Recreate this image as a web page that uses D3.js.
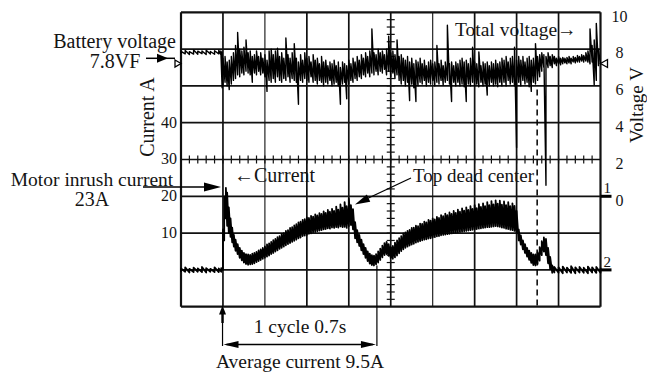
<!DOCTYPE html>
<html><head><meta charset="utf-8">
<script src="https://cdn.jsdelivr.net/npm/d3@7/dist/d3.min.js"></script>
<style>
html,body{margin:0;padding:0;background:#fff;}
svg{display:block;}
text{font-family:"Liberation Serif","Times New Roman",serif;fill:#141414;}
</style></head><body>
<svg id="chart" width="647" height="374"></svg>
<script>
// ---------------- DATA ----------------
// time axis in scope divisions (10 divisions across the screen)
const currentTicks = [10, 20, 30, 40];        // left axis, A
const voltageTicks = [0, 2, 4, 6, 8, 10];     // right axis, V

// Total (battery) voltage trace, V: per-sample low / high of the noisy trace
const voltT = [0,0.1,0.2,0.3,0.4,0.5,0.6,0.7,0.8,0.9,0.95,0.98,
 1.00,1.05,1.10,1.15,1.20,1.25,1.30,1.35,1.40,1.45,
 1.50,1.55,1.60,1.65,1.70,1.75,1.80,1.85,1.90,1.95,
 2.00,2.05,2.10,2.15,2.20,2.25,2.30,2.35,2.40,2.45,
 2.50,2.55,2.60,2.65,2.70,2.75,2.80,2.85,2.90,2.95,
 3.00,3.05,3.10,3.15,3.20,3.25,3.30,3.35,3.40,3.45,
 3.50,3.55,3.60,3.65,3.70,3.75,3.80,3.85,3.90,3.95,
 4.00,4.05,4.10,4.15,4.20,4.25,4.30,4.35,4.40,4.45,
 4.50,4.55,4.60,4.65,4.70,4.75,4.80,4.85,4.90,4.95,
 5.00,5.05,5.10,5.15,5.20,5.25,5.30,5.35,5.40,5.45,
 5.50,5.55,5.60,5.65,5.70,5.75,5.80,5.85,5.90,5.95,
 6.00,6.05,6.10,6.15,6.20,6.25,6.30,6.35,6.40,6.45,
 6.50,6.55,6.60,6.65,6.70,6.75,6.80,6.85,6.90,6.95,
 7.00,7.05,7.10,7.15,7.20,7.25,7.30,7.35,7.40,7.45,
 7.50,7.55,7.60,7.65,7.70,7.75,7.80,7.85,7.90,7.95,
 8.00,8.05,8.10,8.15,8.20,8.25,8.30,8.35,8.40,8.45,
 8.50,8.55,8.60,8.65,8.70,8.75,8.80,8.85,8.90,8.95,
 9.00,9.05,9.10,9.15,9.20,9.25,9.30,9.35,9.40,9.45,
 9.50,9.55,9.60,9.65,9.70,9.75,9.80,9.85,9.90,9.95,
 10.00];
const voltLo = [7.72,7.74,7.70,7.73,7.72,7.75,7.71,7.73,7.72,7.74,7.70,5.90,
 6.0,6.2,6.0,5.8,6.1,6.3,6.4,6.6,6.5,6.7,
 6.6,6.8,6.7,6.6,6.2,6.7,6.6,6.8,6.6,6.7,
 6.5,5.7,6.3,6.2,6.4,6.2,6.5,6.3,6.2,6.4,
 6.3,6.5,6.2,6.4,6.3,6.2,5.0,6.3,6.2,6.4,
 6.3,6.2,6.5,6.2,6.3,6.1,6.3,6.2,6.0,6.2,
 6.1,6.3,6.0,6.1,6.2,6.0,5.0,6.1,6.2,5.3,
 6.1,6.3,6.2,6.4,6.3,6.5,6.4,6.6,6.5,6.7,
 6.5,6.7,6.6,6.8,6.6,6.8,6.7,6.9,6.6,6.8,
 6.5,6.7,6.4,6.6,6.3,6.1,6.3,6.0,6.2,5.2,
 6.1,5.9,5.15,6.0,6.2,6.1,6.3,6.0,6.2,6.1,
 6.3,6.0,6.2,6.1,6.3,6.05,6.2,6.3,6.1,5.15,
 6.2,6.0,6.2,6.0,6.1,5.95,5.15,6.1,6.0,6.2,
 6.0,6.1,5.95,6.2,6.0,6.1,5.5,6.0,6.2,6.0,
 6.1,5.95,6.2,6.0,6.2,6.0,6.3,6.1,6.2,6.0,
 2.65,6.2,6.0,6.3,6.1,6.2,5.95,5.7,6.2,6.1,
 6.3,6.5,6.8,7.0,0.6,7.0,7.1,7.0,7.2,7.1,
 7.2,7.15,7.2,7.25,7.2,7.25,7.2,7.3,7.25,7.3,
 7.3,7.35,7.3,7.35,7.3,7.2,7.3,6.05,6.3,7.1,
 7.2];
const voltHi = [7.88,7.92,7.86,7.95,7.89,7.90,7.94,7.87,7.91,7.93,7.90,7.85,
 7.5,7.6,7.3,7.4,7.6,7.8,8.2,8.9,8.0,7.9,
 8.1,8.5,7.8,7.9,7.6,7.7,7.9,7.6,7.8,7.5,
 7.7,7.4,7.9,8.0,7.7,7.9,8.05,7.6,7.8,7.5,
 8.6,7.7,7.5,7.8,8.3,7.5,7.3,7.7,7.4,7.8,
 7.5,7.6,7.3,7.7,7.4,7.5,7.2,7.6,7.3,7.4,
 7.1,7.3,7.2,7.4,7.1,7.3,7.0,7.3,7.2,7.1,
 7.4,7.2,7.5,7.3,7.6,7.4,7.7,7.5,7.8,7.6,
 7.9,9.1,7.8,7.7,8.0,7.8,7.9,7.7,8.0,8.7,
 7.8,7.9,7.7,8.5,7.6,7.7,7.5,7.4,7.6,7.3,
 7.5,7.2,7.4,7.3,7.5,7.2,7.4,7.1,7.3,7.4,
 7.2,7.3,8.2,7.2,7.4,7.1,7.3,9.3,7.2,7.3,
 7.1,7.3,7.2,7.4,7.5,7.3,7.4,7.2,7.5,8.1,
 7.3,7.2,7.85,7.1,7.3,7.2,7.3,7.1,7.3,7.2,
 7.4,7.2,7.3,7.5,7.4,7.6,7.3,7.5,7.6,8.1,
 7.4,7.6,7.4,7.6,7.3,7.5,7.6,7.4,7.5,8.3,
 7.6,7.7,7.8,7.7,7.6,7.8,7.6,7.7,7.6,7.5,
 7.6,7.5,7.55,7.5,7.55,7.6,7.5,7.6,7.55,7.65,
 7.6,7.7,7.65,7.8,7.9,9.1,8.2,8.5,9.4,8.0,
 7.3];

// Motor current trace, A: per-sample low / high
const curT = [0,0.1,0.2,0.3,0.4,0.5,0.6,0.7,0.8,0.9,0.96,
 1.00,1.03,1.07,1.10,1.14,1.18,1.22,1.26,1.30,
 1.35,1.40,1.45,1.50,1.55,1.60,1.65,1.70,1.75,1.80,
 1.85,1.90,1.95,2.00,2.05,2.10,2.15,2.20,2.25,2.30,
 2.35,2.40,2.45,2.50,2.55,2.60,2.65,2.70,2.75,2.80,
 2.85,2.90,2.95,3.00,3.05,3.10,3.15,3.20,3.25,3.30,
 3.35,3.40,3.45,3.50,3.55,3.60,3.65,3.70,3.75,3.80,
 3.85,3.90,3.95,4.00,4.05,4.10,4.15,4.20,4.25,4.30,
 4.35,4.40,4.45,4.50,4.55,4.60,4.65,4.70,4.75,4.80,
 4.85,4.90,4.95,5.00,5.05,5.10,5.15,5.20,5.25,5.30,
 5.35,5.40,5.45,5.50,5.55,5.60,5.65,5.70,5.75,5.80,
 5.85,5.90,5.95,6.00,6.05,6.10,6.15,6.20,6.25,6.30,
 6.35,6.40,6.45,6.50,6.55,6.60,6.65,6.70,6.75,6.80,
 6.85,6.90,6.95,7.00,7.05,7.10,7.15,7.20,7.25,7.30,
 7.35,7.40,7.45,7.50,7.55,7.60,7.65,7.70,7.75,7.80,
 7.85,7.90,7.95,8.00,8.05,8.10,8.15,8.20,8.25,8.30,
 8.35,8.40,8.45,8.50,8.55,8.60,8.65,8.70,8.75,8.80,
 8.85,8.90,
 9.0,9.1,9.2,9.3,9.4,9.5,9.6,9.7,9.8,9.9,10.0];
const curLo = [-0.6,-0.5,-0.7,-0.6,-0.5,-0.6,-0.7,-0.5,-0.6,-0.6,-0.5,
 0.0,8,14,12,10,9,7.5,6.3,5.2,
 4.3,3.3,2.6,2.0,1.6,1.4,1.5,1.6,1.8,2.1,
 2.4,2.7,3.0,3.3,3.6,3.9,4.3,4.6,5.0,5.3,
 5.7,6.0,6.3,6.7,7.0,7.3,7.6,7.9,8.2,8.6,
 8.8,9.2,9.3,9.5,9.8,9.9,10.2,10.3,10.5,10.7,
 10.8,11.0,11.1,11.3,11.2,11.5,11.4,11.6,11.5,11.8,
 11.6,11.7,11.4,11.9,12.2,11.0,8.6,7.5,6.5,5.3,
 4.3,3.3,2.4,1.7,1.3,1.2,1.5,2.0,2.7,3.4,
 4.0,4.3,3.8,3.2,3.0,3.4,3.9,4.5,5.1,5.6,
 6.0,6.3,6.6,6.9,7.1,7.4,7.6,7.8,8.0,8.2,
 8.3,8.5,8.6,8.8,8.9,9.1,9.2,9.4,9.5,9.6,
 9.7,9.8,9.9,10.0,10.1,10.2,10.3,10.4,10.5,10.6,
 10.7,10.8,10.9,11.0,11.1,11.2,11.3,11.4,11.5,11.6,
 11.6,11.7,11.8,11.9,11.8,11.7,11.5,11.4,11.2,11.1,
 10.9,10.8,10.6,10.0,8.0,6.9,5.6,4.6,3.6,2.7,
 1.9,1.3,1.2,1.6,2.5,4.0,5.0,4.0,1.8,0.2,
 -0.8,-0.7,
 -0.8,-0.9,-0.7,-0.8,-0.9,-0.7,-0.8,-0.9,-0.7,-0.8,-0.8];
const curHi = [0.4,0.7,0.3,0.6,0.4,0.8,0.5,0.3,0.7,0.4,0.5,
 11,20,22.3,21,17,14,11.5,9.5,8.2,
 7.0,6.0,5.2,4.6,4.3,4.2,4.1,4.4,4.6,4.9,
 5.3,5.6,6.0,6.4,6.9,7.2,7.6,8.1,8.4,8.9,
 9.2,9.8,10.0,10.6,10.8,11.4,11.6,12.1,12.4,12.9,
 13.1,13.6,13.8,14.3,14.1,14.7,14.5,15.1,14.8,15.4,
 15.2,15.9,15.5,16.3,15.8,16.6,16.0,17.2,16.4,17.8,
 16.9,18.4,17.3,19.4,17.6,16.5,13.0,10.8,9.5,8.2,
 7.0,6.0,5.0,4.4,4.0,3.9,4.3,5.0,5.8,6.6,
 7.3,7.6,7.0,6.2,6.5,7.4,8.0,8.6,9.2,9.9,
 10.2,10.6,10.9,11.4,11.5,12.0,11.9,12.6,12.5,13.1,
 12.9,13.6,13.4,14.0,13.7,14.4,14.1,14.9,14.6,15.3,
 14.9,15.6,15.2,16.0,15.5,16.4,15.8,16.7,16.1,17.0,
 16.3,17.3,16.6,17.6,16.8,17.9,17.1,18.1,17.3,18.4,
 17.6,18.7,17.8,18.9,18.0,18.8,17.7,18.6,17.6,18.4,
 17.3,18.1,17.4,16.0,11.0,9.4,8.0,7.0,6.0,5.2,
 4.6,4.2,4.2,4.8,6.2,7.8,8.8,8.4,6.0,3.5,
 1.2,0.8,
 0.7,0.9,0.6,1.0,0.7,0.8,0.6,0.9,0.7,0.8,0.6];

// annotation values
const inrushCurrent = 22.5;     // arrow level, A
const batteryArrowV = 7.5;      // arrow level, V
const cycleStart = 0.99, cycleEnd = 4.67;  // divisions (1 cycle 0.7 s)
const markerT = 8.49;           // dashed marker, divisions

// ---------------- SCALES ----------------
const svg = d3.select("#chart");
const x  = d3.scaleLinear().domain([0, 10]).range([181, 600.5]);
const yV = d3.scaleLinear().domain([0, 10]).range([196.3, 12.3]);
const yA = d3.scaleLinear().domain([0, 40]).range([269.9, 122.7]);

// ---------------- GRID ----------------
const grid = svg.append("g");
grid.selectAll("line.v").data(d3.range(0, 11)).join("line")
  .attr("x1", d => x(d)).attr("x2", d => x(d))
  .attr("y1", yV(10)).attr("y2", yV(-6))
  .attr("stroke", "#111").attr("stroke-width", d => (d === 0 || d === 10) ? 2.2 : ([2, 6].includes(d) ? 1.1 : 1.7));
grid.selectAll("line.h").data(d3.range(-6, 11, 2)).join("line")
  .attr("x1", x(0)).attr("x2", x(10))
  .attr("y1", d => yV(d)).attr("y2", d => yV(d))
  .attr("stroke", "#111").attr("stroke-width", d => (d === -6 || d === 10) ? 2.2 : 1.7);
// centre graticule ticks
grid.selectAll("line.tx").data(d3.range(0.2, 10, 0.2)).join("line")
  .attr("x1", d => x(d)).attr("x2", d => x(d))
  .attr("y1", yV(2) - 4).attr("y2", yV(2) + 4)
  .attr("stroke", "#111").attr("stroke-width", 1.2);
grid.selectAll("line.ty").data(d3.range(-5.6, 10, 0.4)).join("line")
  .attr("x1", x(5) - 4).attr("x2", x(5) + 4)
  .attr("y1", d => yV(d)).attr("y2", d => yV(d))
  .attr("stroke", "#111").attr("stroke-width", 1.2);

// ---------------- TRACES ----------------
// each sample is drawn as a vertical stroke lo->hi, then the beam returns to the next sample
function trace(T, Lo, Hi, ys) {
  const pts = [];
  T.forEach((t, i) => { pts.push([t, Lo[i]], [t, Hi[i]]); });
  return d3.line().x(d => x(d[0])).y(d => ys(d[1]))(pts);
}
svg.append("path").attr("d", trace(voltT, voltLo, voltHi, yV))
  .attr("fill", "none").attr("stroke", "#000").attr("stroke-width", 1.4).attr("stroke-linejoin", "round");
svg.append("path").attr("d", trace(curT, curLo, curHi, yA))
  .attr("fill", "none").attr("stroke", "#000").attr("stroke-width", 1.8).attr("stroke-linejoin", "round");

// dashed marker line
svg.append("line").attr("x1", x(markerT)).attr("x2", x(markerT))
  .attr("y1", yV(5.8)).attr("y2", yV(-6))
  .attr("stroke", "#000").attr("stroke-width", 1.5).attr("stroke-dasharray", "6,4");

// ---------------- AXES ----------------
const axL = svg.append("g").attr("transform", `translate(${x(0)},0)`)
  .call(d3.axisLeft(yA).tickValues(currentTicks).tickSize(0).tickPadding(4));
axL.select(".domain").remove();
axL.selectAll("text").attr("font-size", 16).attr("font-family", "Liberation Serif").attr("fill", "#141414")
  .attr("dy", "0.28em");

const axR = svg.append("g").attr("transform", `translate(${x(10)},0)`)
  .call(d3.axisRight(yV).tickValues(voltageTicks).tickSize(0).tickPadding(0));
axR.select(".domain").remove();
axR.selectAll("text").attr("font-size", 16).attr("font-family", "Liberation Serif").attr("fill", "#141414")
  .attr("text-anchor", "middle").attr("x", 19).attr("dy", "0.55em");

svg.append("text").attr("transform", "translate(154,117) rotate(-90)")
  .attr("text-anchor", "middle").attr("font-size", 20).text("Current A");
svg.append("text").attr("transform", "translate(643,105) rotate(-90)")
  .attr("text-anchor", "middle").attr("font-size", 19).text("Voltage V");

// channel markers
function tri(pts) { return "M" + pts.map(p => p.join(",")).join("L") + "Z"; }
svg.append("path").attr("d", tri([[x(10), 63.5], [x(10) + 7, 59.5], [x(10) + 7, 67.5]]))
  .attr("fill", "#fff").attr("stroke", "#000").attr("stroke-width", 1.3);
svg.append("path").attr("d", tri([[x(0) - 6, 60], [x(0), 63.5], [x(0) - 6, 67]]))
  .attr("fill", "#fff").attr("stroke", "#000").attr("stroke-width", 1.3);
[[yV(0), "1"], [yA(0), "2"]].forEach(([yy, lab]) => {
  svg.append("line").attr("x1", x(10)).attr("x2", x(10) + 11).attr("y1", yy).attr("y2", yy)
    .attr("stroke", "#000").attr("stroke-width", 3);
  svg.append("text").attr("x", x(10) + 3).attr("y", yy - 3).attr("font-size", 15).text(lab);
});

// ---------------- ANNOTATIONS ----------------
function head(tx, ty, ang, len, hw) {
  const c = Math.cos(ang), s = Math.sin(ang);
  const bx = tx - c * len, by = ty - s * len;
  return tri([[tx, ty], [bx - s * hw, by + c * hw], [bx + s * hw, by - c * hw]]);
}
const ann = svg.append("g");
function line(x1, y1, x2, y2, w) {
  ann.append("line").attr("x1", x1).attr("y1", y1).attr("x2", x2).attr("y2", y2)
    .attr("stroke", "#000").attr("stroke-width", w);
}
function txt(tx, ty, s, anchor, size) {
  ann.append("text").attr("x", tx).attr("y", ty).attr("text-anchor", anchor || "start")
    .attr("font-size", size || 20).text(s);
}
// battery voltage
txt(176, 48, "Battery voltage", "end");
txt(115, 68, "7.8VF", "middle");
const yb = yV(batteryArrowV);
line(146, yb, 175, yb, 1.5);
ann.append("path").attr("d", head(168, yb, 0, 11, 4.5)).attr("fill", "#000");

// total voltage
txt(455, 36, "Total voltage\u2192", "start", 19.5);

// motor inrush
txt(92, 186, "Motor inrush current", "middle", 19.5);
txt(92, 206, "23A", "middle");
const yi = yA(inrushCurrent);
line(143, yi, 215, yi, 1.5);
ann.append("path").attr("d", head(221, yi, 0, 17, 4.5)).attr("fill", "#000");

// current label
txt(234, 182, "\u2190Current", "start");

// top dead center
txt(413, 182, "Top dead center", "start", 19);
const tdx = 355, tdy = 204.5;
line(411, 178, tdx + 6, tdy - 3, 1.3);
ann.append("path").attr("d", head(tdx, tdy, Math.atan2(tdy - 178, tdx - 411), 15, 4)).attr("fill", "#000");

// cycle bracket
const xc0 = x(cycleStart), xc1 = x(cycleEnd);
line(xc0, 308, xc0, 346, 1.2);
line(xc0, 312, xc0, 323, 2.4);
ann.append("path").attr("d", head(xc0, 305.5, -Math.PI / 2, 9, 3.5)).attr("fill", "#000");
line(xc1, yA(1.2), xc1, 346, 1.2);
const yc = 344.5;
line(xc0 + 4, yc, xc1 - 4, yc, 1.5);
ann.append("path").attr("d", head(xc0 + 1, yc, Math.PI, 15, 3.6)).attr("fill", "#000");
ann.append("path").attr("d", head(xc1 - 1, yc, 0, 15, 3.6)).attr("fill", "#000");
txt(300, 333, "1 cycle 0.7s", "middle", 19.5);
txt(300, 368, "Average current 9.5A", "middle", 19.5);
</script>
</body></html>
